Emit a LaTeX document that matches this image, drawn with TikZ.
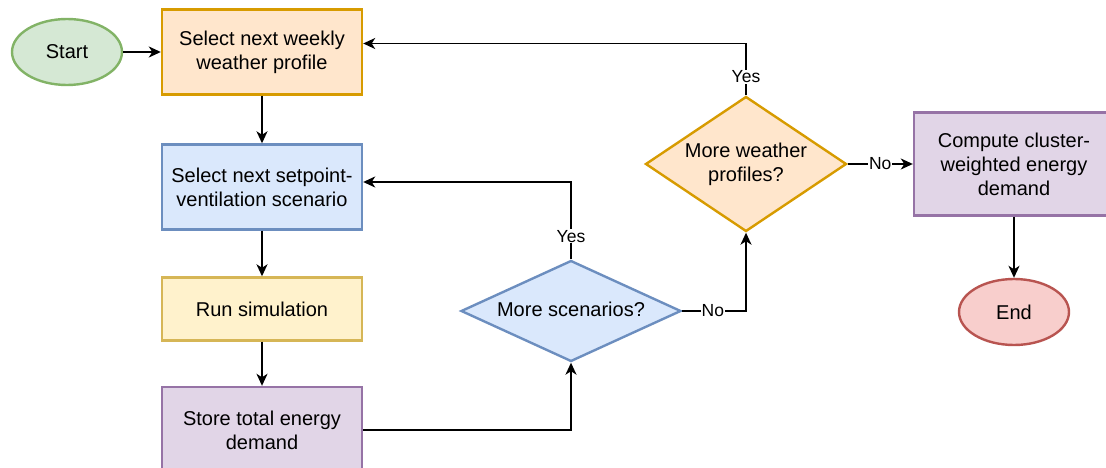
\documentclass[tikz,border=0pt]{standalone}
\usepackage{fontspec}
\setmainfont{Liberation Sans}
\usepackage{tikz}
\usetikzlibrary{positioning,arrows.meta,shapes.geometric}
\definecolor{greenfill}{HTML}{D5E8D4}
\definecolor{greenline}{HTML}{82B366}
\definecolor{orangefill}{HTML}{FFE6CC}
\definecolor{orangeline}{HTML}{D79B00}
\definecolor{bluefill}{HTML}{DAE8FC}
\definecolor{blueline}{HTML}{6C8EBF}
\definecolor{yellowfill}{HTML}{FFF2CC}
\definecolor{yellowline}{HTML}{D6B656}
\definecolor{purplefill}{HTML}{E1D5E7}
\definecolor{purpleline}{HTML}{9673A6}
\definecolor{redfill}{HTML}{F8CECC}
\definecolor{redline}{HTML}{B85450}
\tikzset{
  every node/.style={font=\fontsize{20}{24}\selectfont},
  terminal/.style={ellipse, draw, line width=2.4pt, minimum width=110pt, minimum height=66pt, inner sep=0pt},
  procbox/.style={rectangle, draw, line width=2.4pt, minimum width=200pt, minimum height=85pt, inner sep=0pt, align=center},
  decision/.style={diamond, draw, line width=2.4pt, inner sep=0pt},
  flow/.style={line width=1.7pt, -{Stealth[length=12pt,width=11pt,inset=3.5pt]}},
  lbl/.style={fill=white, inner sep=1pt, font=\fontsize{17.5}{21}\selectfont}
}
\begin{document}
\begin{tikzpicture}[x=1pt,y=-1pt]
\useasboundingbox (0,0) rectangle (1106,468);
\node[terminal, fill=greenfill, draw=greenline] at (67,52) (start) {Start};
\node[procbox, fill=orangefill, draw=orangeline] at (262,52) (weekly) {Select next weekly\\weather profile};
\node[procbox, fill=bluefill, draw=blueline] at (262,187) (setpt) {Select next setpoint-\\ventilation scenario};
\node[procbox, fill=yellowfill, draw=yellowline, minimum height=63pt] at (262,309) (runsim) {Run simulation};
\node[procbox, fill=purplefill, draw=purpleline, minimum height=86pt] at (262,430) (store) {Store total energy\\demand};
\node[decision, fill=bluefill, draw=blueline, minimum width=220pt, minimum height=101pt,
      label={center:\raisebox{3pt}{More scenarios?}}] at (571,311) (morescen) {};
\node[decision, fill=orangefill, draw=orangeline, minimum width=201pt, minimum height=135pt,
      label={[align=center]center:More weather\\profiles?}] at (746,164) (moreweather) {};
\node[procbox, fill=purplefill, draw=purpleline, minimum height=103pt] at (1014,164) (compute) {Compute cluster-\\weighted energy\\demand};
\node[terminal, fill=redfill, draw=redline] at (1014,312) (stop) {End};

\draw[flow] (start) -- (weekly);
\draw[flow] (weekly) -- (setpt);
\draw[flow] (setpt) -- (runsim);
\draw[flow] (runsim) -- (store);
\draw[flow] (store.east) -| (morescen.south);
\draw[flow] (morescen.north) |- node[lbl, pos=0.15] {Yes} ([yshift=5pt]setpt.east);
\draw[flow] (morescen.east) -| node[lbl, pos=0.24] {No} (moreweather.south);
\draw[flow] (moreweather.north) |- node[lbl, pos=0.18] {Yes} ([yshift=8.5pt]weekly.east);
\draw[flow] (moreweather) -- node[lbl] {No} (compute);
\draw[flow] (compute) -- (stop);
\end{tikzpicture}
\end{document}
